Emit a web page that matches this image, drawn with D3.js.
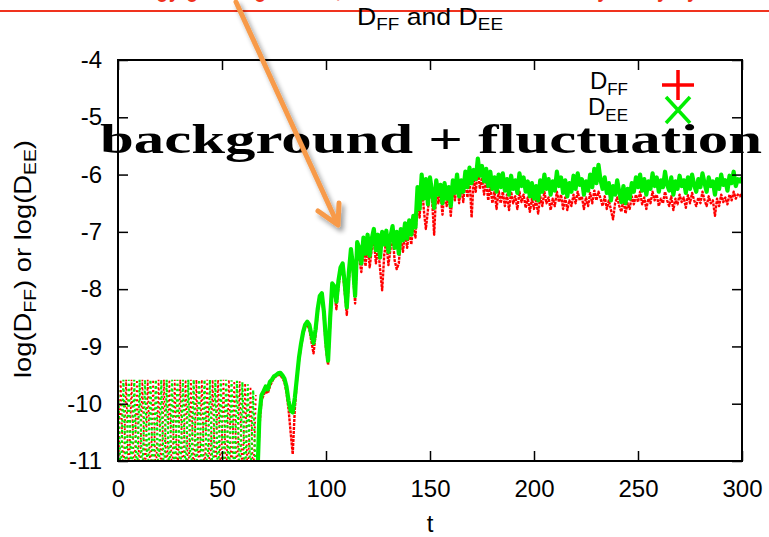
<!DOCTYPE html>
<html>
<head>
<meta charset="utf-8">
<script src="https://cdn.jsdelivr.net/npm/d3@7"></script>
<style>
body { margin: 0; background: #fff; }
text { font-family: "Liberation Sans", Arial, Helvetica, sans-serif; }
</style>
</head>
<body>
<script>
// comb part (t < 67): both series share the sample times
const combT = [0,1.3,2.6,3.9,5.2,6.5,7.8,9.1,10.4,11.7,13,14.3,15.6,16.9,18.2,19.5,20.8,22.1,23.4,24.7,26,27.3,28.6,29.9,31.2,32.5,
    33.8,35.1,36.4,37.7,39,40.3,41.6,42.9,44.2,45.5,46.8,48.1,49.4,50.7,52,53.3,54.6,55.9,57.2,58.5,59.8,61.1,62.4,63.7,65,66.3]
const eeComb = [-9.58,-11.4,-9.58,-11.4,-9.58,-11.4,-9.58,-11.4,-9.58,-11.4,-9.58,-11.4,-9.58,-11.4,-9.58,-11.4,-9.58,-11.4,-9.58,-11.4,
    -9.58,-11.4,-9.58,-11.4,-9.58,-11.4,-9.58,-11.4,-9.58,-11.4,-9.58,-11.4,-9.58,-11.4,-9.58,-11.4,-9.58,-11.4,-9.58,-11.4,
    -9.58,-11.4,-9.59,-11.4,-9.6,-11.4,-9.62,-11.4,-9.66,-11.4,-9.76,-11.4]
const ffComb = [-11.4,-9.58,-11.4,-9.58,-11.4,-9.58,-11.4,-9.58,-11.4,-9.58,-11.4,-9.58,-11.4,-9.58,-11.4,-9.58,-11.4,-9.58,-11.4,-9.58,
    -11.4,-9.58,-11.4,-9.58,-11.4,-9.58,-11.4,-9.58,-11.4,-9.58,-11.4,-9.58,-11.4,-9.58,-11.4,-9.58,-11.4,-9.58,-11.4,-9.58,
    -11.4,-9.58,-11.4,-9.6,-11.4,-9.61,-11.4,-9.64,-11.4,-9.7,-11.4,-9.85]

// growth + saturation part, one sample per unit of t starting at t = 67
const tStart = 67
const eeVals = [
    -11.3,-10.2,-9.85,-9.78,-9.7,-9.75,-9.62,-9.58,-9.52,-9.5,
    -9.47,-9.46,-9.5,-9.56,-9.7,-9.95,-10.12,-10.15,-9.9,-9.55,
    -9.2,-8.95,-8.75,-8.62,-8.57,-8.62,-8.8,-8.94,-8.7,-8.35,
    -8.12,-8.07,-8.4,-8.9,-9.25,-8.5,-7.9,-7.95,-8.22,-7.85,
    -7.62,-7.55,-7.9,-8.32,-7.7,-7.3,-7.6,-8.12,-7.18,-7.28,
    -7.55,-7.1,-7.38,-7.05,-7.42,-7.12,-6.95,-7.32,-7.05,-7.45,
    -7.0,-7.22,-6.98,-7.35,-7.08,-6.9,-7.28,-7.0,-7.38,-6.95,
    -7.15,-6.85,-7.12,-6.8,-7.05,-6.72,-6.92,-6.22,-6.6,-6.0,
    -6.42,-6.08,-6.52,-6.05,-6.3,-6.58,-6.1,-6.35,-6.18,-6.5,
    -6.15,-6.42,-6.22,-6.55,-6.1,-6.32,-6.0,-6.38,-6.1,-6.3,
    -5.95,-6.22,-5.88,-6.15,-5.92,-6.08,-5.72,-6.02,-5.85,-6.12,
    -5.9,-6.2,-5.95,-6.25,-6.05,-6.3,-6.0,-6.22,-5.98,-6.28,
    -6.08,-6.35,-6.02,-6.25,-6.1,-6.32,-5.98,-6.2,-6.05,-6.3,
    -6.12,-6.38,-6.15,-6.42,-6.2,-6.45,-6.1,-6.3,-6.0,-6.25,
    -6.08,-6.35,-6.12,-6.28,-5.95,-6.2,-6.05,-6.32,-6.1,-6.38,
    -6.15,-6.3,-6.02,-6.25,-5.98,-6.18,-6.08,-6.35,-6.12,-6.28,
    -6.0,-6.22,-5.9,-6.15,-5.83,-6.1,-6.25,-6.05,-6.32,-6.15,
    -6.45,-6.2,-6.35,-6.1,-6.3,-6.48,-6.2,-6.5,-6.25,-6.42,
    -6.15,-6.3,-6.05,-6.22,-6.0,-6.28,-6.08,-6.35,-6.12,-6.25,
    -5.98,-6.2,-6.05,-6.3,-6.1,-6.22,-5.95,-6.18,-6.28,-6.05,
    -6.35,-6.12,-6.25,-6.02,-6.2,-6.1,-6.32,-6.05,-6.25,-6.0,
    -6.18,-6.3,-6.08,-6.22,-5.98,-6.15,-6.3,-6.05,-6.2,-6.12,
    -6.35,-6.08,-6.25,-6.0,-6.18,-6.1,-6.28,-6.02,-6.15,-5.95,
    -6.2,-6.08,-6.12,-6.05]
const ffVals = [
    -11.3,-10.4,-9.95,-9.85,-9.78,-9.82,-9.7,-9.62,-9.55,-9.52,
    -9.5,-9.5,-9.55,-9.62,-9.8,-10.1,-10.5,-10.88,-10.1,-9.6,
    -9.25,-9.0,-8.8,-8.65,-8.62,-8.7,-8.92,-9.12,-8.8,-8.42,
    -8.18,-8.12,-8.5,-9.05,-9.32,-8.6,-7.98,-8.05,-8.35,-7.95,
    -7.7,-7.68,-8.05,-8.45,-7.85,-7.42,-7.72,-8.25,-7.35,-7.48,
    -7.7,-7.25,-7.6,-7.2,-7.62,-7.3,-7.12,-7.55,-7.25,-7.65,
    -8.02,-7.4,-7.15,-7.58,-7.3,-7.05,-7.5,-7.65,-7.55,-7.1,
    -7.35,-7.0,-7.28,-6.95,-7.22,-6.88,-7.1,-6.4,-6.75,-6.1,
    -6.6,-6.95,-6.62,-6.2,-6.45,-7.05,-6.25,-6.5,-6.3,-6.7,
    -6.25,-6.55,-6.35,-6.72,-6.2,-6.45,-6.1,-6.5,-6.2,-6.48,
    -6.05,-6.4,-6.05,-6.75,-6.1,-6.3,-5.9,-6.25,-6.05,-6.35,
    -6.1,-6.45,-6.2,-6.5,-6.3,-6.6,-6.28,-6.5,-6.3,-6.55,
    -6.35,-6.62,-6.3,-6.5,-6.38,-6.6,-6.3,-6.48,-6.35,-6.58,
    -6.4,-6.65,-6.42,-6.6,-6.45,-6.68,-6.38,-6.55,-6.3,-6.5,
    -6.4,-6.62,-6.42,-6.55,-6.3,-6.48,-6.35,-6.6,-6.4,-6.62,
    -6.45,-6.55,-6.35,-6.5,-6.3,-6.45,-6.38,-6.6,-6.4,-6.55,
    -6.32,-6.5,-6.28,-6.45,-6.3,-6.42,-6.55,-6.38,-6.6,-6.45,
    -6.62,-6.78,-6.5,-6.4,-6.55,-6.65,-6.42,-6.68,-6.5,-6.6,
    -6.38,-6.52,-6.35,-6.48,-6.3,-6.52,-6.4,-6.6,-6.42,-6.5,
    -6.3,-6.45,-6.35,-6.55,-6.42,-6.5,-6.3,-6.45,-6.55,-6.38,
    -6.62,-6.42,-6.52,-6.35,-6.48,-6.4,-6.58,-6.36,-6.5,-6.32,
    -6.45,-6.55,-6.4,-6.5,-6.3,-6.45,-6.55,-6.38,-6.5,-6.45,
    -6.72,-6.42,-6.55,-6.35,-6.48,-6.4,-6.52,-6.35,-6.45,-6.3,
    -6.42,-6.35,-6.38,-6.32]

const xTicks = [0, 50, 100, 150, 200, 250, 300]
const yTicks = [-4, -5, -6, -7, -8, -9, -10, -11]
const legendSubs = ["FF", "EE"]
const seriesColors = ["#ff0000", "#00ee00"]

const W = 769, H = 537
const pLeft = 118, pRight = 742, pTop = 60, pBottom = 461

const svg = d3.select("body").append("svg")
    .attr("width", W)
    .attr("height", H)

const defs = svg.append("defs")
defs.append("clipPath").attr("id", "plotclip")
    .append("rect").attr("x", pLeft).attr("y", pTop).attr("width", pRight - pLeft).attr("height", pBottom - pTop)
const sh = defs.append("filter").attr("id", "shadow")
    .attr("x", "-50%").attr("y", "-50%").attr("width", "200%").attr("height", "200%")
sh.append("feGaussianBlur").attr("in", "SourceAlpha").attr("stdDeviation", 2.5)
sh.append("feOffset").attr("dx", 3).attr("dy", 4).attr("result", "off")
sh.append("feComponentTransfer").append("feFuncA").attr("type", "linear").attr("slope", 0.4)
const mg = sh.append("feMerge")
mg.append("feMergeNode")
mg.append("feMergeNode").attr("in", "SourceGraphic")

const x = d3.scaleLinear().domain([0, 300]).range([pLeft, pRight])
const y = d3.scaleLinear().domain([-11, -4]).range([pBottom, pTop])

// header band of the slide (only the bottom of its text is inside the frame)
svg.append("text")
    .attr("x", 110).attr("y", -4)
    .attr("textLength", 660).attr("lengthAdjust", "spacingAndGlyphs")
    .style("font-size", "30px").style("font-weight", "bold").attr("fill", "#f0321e")
    .text("Energy growing at first, then saturated with steady noisy dynamics")
svg.append("line")
    .attr("x1", 0).attr("x2", W).attr("y1", 11).attr("y2", 11)
    .attr("stroke", "#f0321e").attr("stroke-width", 1.8)

// title
const title = svg.append("text")
    .attr("x", (pLeft + pRight) / 2).attr("y", 25)
    .attr("text-anchor", "middle")
    .attr("textLength", 146).attr("lengthAdjust", "spacingAndGlyphs")
    .style("font-size", "24px")
title.append("tspan").text("D")
title.append("tspan").attr("dy", 5).style("font-size", "17px").text("FF")
title.append("tspan").attr("dy", -5).text(" and D")
title.append("tspan").attr("dy", 5).style("font-size", "17px").text("EE")

// data
const pts = (ts, vs) => ts.map((t, i) => [t, vs[i]])
const growT = ffVals.map((d, i) => tStart + i)
const line = d3.line().x(d => x(d[0])).y(d => y(d[1]))
const plot = svg.append("g").attr("clip-path", "url(#plotclip)")

plot.append("path")
    .datum(pts(combT, ffComb))
    .attr("d", line)
    .attr("fill", "none").attr("stroke", seriesColors[0])
    .attr("stroke-width", 1.8).attr("stroke-dasharray", "2,2.6")
plot.append("path")
    .datum(pts(combT, eeComb))
    .attr("d", line)
    .attr("fill", "none").attr("stroke", seriesColors[1])
    .attr("stroke-width", 2.2).attr("stroke-dasharray", "2.4,2.8")

plot.append("path")
    .datum(pts(growT, ffVals))
    .attr("d", line)
    .attr("fill", "none").attr("stroke", seriesColors[0])
    .attr("stroke-width", 2.4).attr("stroke-dasharray", "3,1")
    .attr("stroke-linejoin", "round")
plot.append("path")
    .datum(pts(growT, eeVals))
    .attr("d", line)
    .attr("fill", "none").attr("stroke", seriesColors[1])
    .attr("stroke-width", 4.2)
    .attr("stroke-linejoin", "round")

// frame and axes (gnuplot style, inward mirrored ticks)
const axisStyle = g => {
    g.select(".domain").remove()
    g.selectAll(".tick line").attr("stroke", "#000").attr("stroke-width", 1.5)
    g.selectAll(".tick text").style("font-size", "24px").attr("fill", "#000")
        .style("font-family", "'Liberation Sans', Arial, sans-serif")
}
svg.append("g")
    .attr("transform", "translate(0," + pBottom + ")")
    .call(d3.axisBottom(x).tickValues(xTicks).tickSizeInner(-10).tickSizeOuter(0).tickPadding(19).tickFormat(d3.format("d")))
    .call(axisStyle)
svg.append("g")
    .attr("transform", "translate(0," + pTop + ")")
    .call(d3.axisTop(x).tickValues(xTicks).tickSizeInner(-10).tickSizeOuter(0).tickFormat(""))
    .call(axisStyle)
svg.append("g")
    .attr("transform", "translate(" + pLeft + ",0)")
    .call(d3.axisLeft(y).tickValues(yTicks).tickSizeInner(-10).tickSizeOuter(0).tickPadding(16).tickFormat(d3.format("d")))
    .call(axisStyle)
svg.append("g")
    .attr("transform", "translate(" + pRight + ",0)")
    .call(d3.axisRight(y).tickValues(yTicks).tickSizeInner(-10).tickSizeOuter(0).tickFormat(""))
    .call(axisStyle)
svg.selectAll(".tick text").text(function () { return this.textContent.replace("\u2212", "-") })

svg.append("rect")
    .attr("x", pLeft).attr("y", pTop).attr("width", pRight - pLeft).attr("height", pBottom - pTop)
    .attr("fill", "none").attr("stroke", "#000").attr("stroke-width", 2)

// axis labels
svg.append("text")
    .attr("x", (pLeft + pRight) / 2).attr("y", 532)
    .attr("text-anchor", "middle").style("font-size", "24px")
    .text("t")
const yl = svg.append("text")
    .attr("transform", "translate(31,259) rotate(-90)")
    .attr("text-anchor", "middle")
    .attr("textLength", 238).attr("lengthAdjust", "spacingAndGlyphs")
    .style("font-size", "24px")
yl.append("tspan").text("log(D")
yl.append("tspan").attr("dy", 5).style("font-size", "17px").text("FF")
yl.append("tspan").attr("dy", -5).text(") or log(D")
yl.append("tspan").attr("dy", 5).style("font-size", "17px").text("EE")
yl.append("tspan").attr("dy", -5).text(")")

// legend
const leg = svg.append("g")
legendSubs.forEach((s, i) => {
    const ly = 89 + i * 26
    const t = leg.append("text").attr("x", 628).attr("y", ly).attr("text-anchor", "end").style("font-size", "24px")
    t.append("tspan").text("D")
    t.append("tspan").attr("dy", 6).style("font-size", "17px").text(s)
    const cx = 678, cy = ly - 4 - (i === 0 ? 0 : 1)
    const d = i === 0
        ? `M${cx - 16},${cy}H${cx + 16}M${cx},${cy - 15}V${cy + 15}`
        : `M${cx - 12},${cy - 13}L${cx + 12},${cy + 13}M${cx + 12},${cy - 13}L${cx - 12},${cy + 13}`
    leg.append("path").attr("d", d).attr("stroke", seriesColors[i]).attr("stroke-width", 3.5).attr("fill", "none")
})

// annotation
svg.append("text")
    .attr("x", 100).attr("y", 153)
    .attr("textLength", 662).attr("lengthAdjust", "spacingAndGlyphs")
    .style("font-family", "'Liberation Serif', 'DejaVu Serif', serif")
    .style("font-weight", "bold").style("font-size", "43px")
    .text("background + fluctuation")

svg.append("path")
    .attr("d", "M236,2L338,225M318,211L338,225L339,203")
    .attr("fill", "none").attr("stroke", "#f79a4a").attr("stroke-width", 5)
    .attr("stroke-linecap", "round").attr("stroke-linejoin", "round")
    .attr("filter", "url(#shadow)")
</script>
</body>
</html>
